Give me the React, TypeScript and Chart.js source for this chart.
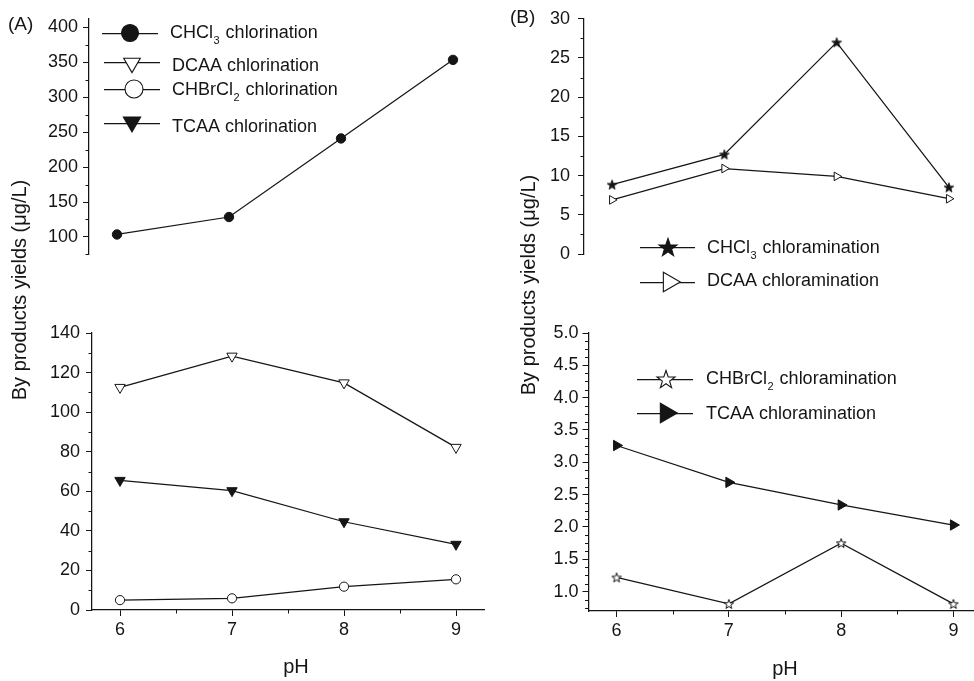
import React, { useEffect, useRef } from 'react';
import { Chart, registerables } from 'chart.js';

Chart.register(...registerables);

// ---------------- data ----------------
const PH = [6, 7, 8, 9];

const CHCL3_CHLORINATION = [103.5, 128.5, 241, 353.5];
const DCAA_CHLORINATION = [112.5, 128.3, 114.8, 82.2];
const CHBRCL2_CHLORINATION = [5.0, 5.9, 11.8, 15.5];
const TCAA_CHLORINATION = [65.5, 60.3, 44.6, 33.2];

const CHCL3_CHLORAMINATION = [8.85, 12.7, 27.0, 8.5];
const DCAA_CHLORAMINATION = [6.9, 10.9, 9.9, 7.05];
const CHBRCL2_CHLORAMINATION = [1.22, 0.81, 1.75, 0.81];
const TCAA_CHLORAMINATION = [3.26, 2.69, 2.34, 2.03];

const X_TICKS = [6, 7, 8, 9];
const A_TOP_TICKS = [100, 150, 200, 250, 300, 350, 400];
const A_BOTTOM_TICKS = [0, 20, 40, 60, 80, 100, 120, 140];
const B_TOP_TICKS = [0, 5, 10, 15, 20, 25, 30];
const B_BOTTOM_TICKS = [1.0, 1.5, 2.0, 2.5, 3.0, 3.5, 4.0, 4.5, 5.0];

const Y_TITLE = 'By products yields (\u03bcg/L)';
const X_TITLE = 'pH';

// ---------------- style ----------------
const INK = '#151515';
const FONT = '"Liberation Sans", Arial, Helvetica, sans-serif';
const CW = 1000;
const CH = 681;
const YW = 70;
const XH = 40;
const LW = 1.25;

type Shape = 'circle' | 'triangle' | 'star';
interface Marker { shape: Shape; rotation: number; filled: boolean; r: number; }
interface Part { t: string; sub?: boolean; }
interface LegendEntry { parts: Part[]; marker: Marker; x0: number; x1: number; ly: number; mx: number; my: number; tx: number; ty: number; }
interface Txt { text: string; x: number; y: number; size: number; rotate?: boolean; align: CanvasTextAlign; }
interface Series { data: number[]; marker: Marker; }
interface PanelCfg {
  area: { left: number; top: number; right: number; bottom: number };
  xMin: number; xMax: number; yMin: number; yMax: number;
  yTicks: number[]; yMinorStep: number; yDecimals: number; yPad: number;
  showX: boolean;
  series: Series[];
  legend: LegendEntry[];
  texts: Txt[];
}

function starPath(ctx: CanvasRenderingContext2D, cx: number, cy: number, R: number) {
  ctx.beginPath();
  for (let i = 0; i < 10; i++) {
    const a = -Math.PI / 2 + (i * Math.PI) / 5;
    const rr = i % 2 === 0 ? R : R * 0.4;
    const px = cx + Math.cos(a) * rr;
    const py = cy + Math.sin(a) * rr;
    if (i === 0) ctx.moveTo(px, py); else ctx.lineTo(px, py);
  }
  ctx.closePath();
}

function makeStar(R: number, filled: boolean): HTMLCanvasElement {
  const size = Math.ceil(2 * R + 4);
  const c = document.createElement('canvas');
  c.width = size; c.height = size;
  const ctx = c.getContext('2d')!;
  starPath(ctx, size / 2, size / 2 + R * 0.1, R);
  ctx.fillStyle = filled ? INK : '#ffffff';
  ctx.fill();
  ctx.lineWidth = 1;
  ctx.strokeStyle = INK;
  ctx.stroke();
  return c;
}

function drawMarker(ctx: CanvasRenderingContext2D, m: Marker, x: number, y: number) {
  ctx.save();
  ctx.lineWidth = 1.1;
  ctx.strokeStyle = INK;
  ctx.fillStyle = m.filled ? INK : '#ffffff';
  if (m.shape === 'circle') {
    ctx.beginPath(); ctx.arc(x, y, m.r, 0, Math.PI * 2); ctx.closePath();
  } else if (m.shape === 'triangle') {
    let rad = (m.rotation * Math.PI) / 180;
    ctx.beginPath();
    ctx.moveTo(x + Math.sin(rad) * m.r, y - Math.cos(rad) * m.r);
    rad += (2 * Math.PI) / 3;
    ctx.lineTo(x + Math.sin(rad) * m.r, y - Math.cos(rad) * m.r);
    rad += (2 * Math.PI) / 3;
    ctx.lineTo(x + Math.sin(rad) * m.r, y - Math.cos(rad) * m.r);
    ctx.closePath();
  } else {
    starPath(ctx, x, y + m.r * 0.1, m.r);
  }
  ctx.fill();
  ctx.stroke();
  ctx.restore();
}

function drawRich(ctx: CanvasRenderingContext2D, x: number, y: number, parts: Part[], size: number) {
  ctx.save();
  ctx.fillStyle = INK;
  ctx.textBaseline = 'middle';
  ctx.textAlign = 'left';
  let cx = x;
  for (const p of parts) {
    if (p.sub) {
      ctx.font = `${Math.round(size * 0.62)}px ${FONT}`;
      ctx.fillText(p.t, cx + 0.5, y + size * 0.45);
      cx += ctx.measureText(p.t).width + 1.5;
    } else {
      ctx.font = `${size}px ${FONT}`;
      ctx.fillText(p.t, cx, y);
      cx += ctx.measureText(p.t).width;
    }
  }
  ctx.restore();
}

const overlay = (cfg: PanelCfg) => ({
  id: 'overlay',
  afterDraw(chart: any) {
    const ctx: CanvasRenderingContext2D = chart.ctx;
    const area = chart.chartArea;
    const ys = chart.scales.y;
    const xs = chart.scales.x;
    ctx.save();
    ctx.strokeStyle = INK;
    ctx.lineWidth = 1;
    // minor y ticks
    const st = cfg.yMinorStep;
    const start = Math.ceil((cfg.yMin - 1e-9) / st) * st;
    for (let v = start; v <= cfg.yMax + 1e-9; v += st) {
      if (cfg.yTicks.some(t => Math.abs(t - v) < 1e-6)) continue;
      const py = Math.round(ys.getPixelForValue(v)) + 0.5;
      ctx.beginPath(); ctx.moveTo(area.left - 3.5, py); ctx.lineTo(area.left, py); ctx.stroke();
    }
    // minor x ticks
    if (cfg.showX) {
      for (let v = 5.5; v <= cfg.xMax; v += 1) {
        if (v < cfg.xMin) continue;
        const px = Math.round(xs.getPixelForValue(v)) + 0.5;
        ctx.beginPath(); ctx.moveTo(px, area.bottom); ctx.lineTo(px, area.bottom + 3.5); ctx.stroke();
      }
    }
    // legend
    for (const e of cfg.legend) {
      ctx.lineWidth = LW;
      ctx.beginPath();
      ctx.moveTo(e.x0, e.ly + 0.5); ctx.lineTo(e.x1, e.ly + 0.5);
      ctx.stroke();
      drawMarker(ctx, e.marker, e.mx, e.my);
      drawRich(ctx, e.tx, e.ty, e.parts, 18);
    }
    // free texts
    for (const t of cfg.texts) {
      ctx.save();
      ctx.fillStyle = INK;
      ctx.font = `${t.size}px ${FONT}`;
      ctx.textBaseline = 'middle';
      ctx.textAlign = t.align;
      ctx.translate(t.x, t.y);
      if (t.rotate) ctx.rotate(-Math.PI / 2);
      ctx.fillText(t.text, 0, 0);
      ctx.restore();
    }
    ctx.restore();
  },
});

function buildChart(canvas: HTMLCanvasElement, cfg: PanelCfg) {
  const a = cfg.area;
  const datasets = cfg.series.map(s => ({
    data: PH.map((x, i) => ({ x, y: s.data[i] })),
    borderColor: INK,
    borderWidth: LW,
    tension: 0,
    fill: false,
    clip: false as any,
    pointStyle: s.marker.shape === 'star' ? makeStar(s.marker.r, s.marker.filled) : s.marker.shape,
    pointRotation: s.marker.rotation,
    pointRadius: s.marker.r,
    pointBorderColor: INK,
    pointBorderWidth: 1,
    pointBackgroundColor: s.marker.filled ? INK : '#ffffff',
  }));
  const grid = { display: true, drawOnChartArea: false, drawTicks: true, tickLength: 6, tickColor: INK, tickWidth: 1 };
  const border = { display: true, color: INK, width: LW };
  return new Chart(canvas, {
    type: 'line',
    data: { datasets } as any,
    options: {
      animation: false,
      responsive: false,
      maintainAspectRatio: false,
      events: [],
      layout: {
        padding: {
          left: a.left - YW,
          top: a.top,
          right: CW - a.right,
          bottom: CH - a.bottom - (cfg.showX ? XH : 0),
        },
      },
      plugins: { legend: { display: false }, tooltip: { enabled: false } },
      scales: {
        x: {
          type: 'linear',
          min: cfg.xMin,
          max: cfg.xMax,
          bounds: 'data',
          display: cfg.showX,
          afterBuildTicks: (s: any) => { s.ticks = X_TICKS.map(v => ({ value: v })); },
          afterFit: (s: any) => { s.height = XH; },
          grid,
          border,
          ticks: { color: INK, font: { family: FONT, size: 18 }, padding: 3, maxRotation: 0, autoSkip: false, callback: (v: any) => String(v) },
        },
        y: {
          type: 'linear',
          min: cfg.yMin,
          max: cfg.yMax,
          bounds: 'data',
          afterBuildTicks: (s: any) => { s.ticks = cfg.yTicks.map(v => ({ value: v })); },
          afterFit: (s: any) => { s.width = YW; },
          grid,
          border,
          ticks: { color: INK, font: { family: FONT, size: 18 }, padding: cfg.yPad, autoSkip: false, callback: (v: any) => Number(v).toFixed(cfg.yDecimals) },
        },
      },
    } as any,
    plugins: [overlay(cfg) as any],
  });
}

// ---------------- markers ----------------
const M_CHCL3_A: Marker = { shape: 'circle', rotation: 0, filled: true, r: 4.7 };
const M_DCAA_A: Marker = { shape: 'triangle', rotation: 180, filled: false, r: 6 };
const M_CHBRCL2_A: Marker = { shape: 'circle', rotation: 0, filled: false, r: 4.6 };
const M_TCAA_A: Marker = { shape: 'triangle', rotation: 180, filled: true, r: 6 };
const M_CHCL3_B: Marker = { shape: 'star', rotation: 0, filled: true, r: 5 };
const M_DCAA_B: Marker = { shape: 'triangle', rotation: 90, filled: false, r: 5 };
const M_CHBRCL2_B: Marker = { shape: 'star', rotation: 0, filled: false, r: 5 };
const M_TCAA_B: Marker = { shape: 'triangle', rotation: 90, filled: true, r: 6 };

const big = (m: Marker, r: number): Marker => ({ ...m, r });

const PANELS: PanelCfg[] = [
  {
    area: { left: 89, top: 19, right: 481, bottom: 294.4 },
    xMin: 5.75, xMax: 9.25, yMin: 75, yMax: 412,
    yTicks: A_TOP_TICKS, yMinorStep: 25, yDecimals: 0, yPad: 5,
    showX: false,
    series: [{ data: CHCL3_CHLORINATION, marker: M_CHCL3_A }],
    legend: [
      { parts: [{ t: 'CHCl' }, { t: '3', sub: true }, { t: ' chlorination' }], marker: big(M_CHCL3_A, 8.5), x0: 102, x1: 158, ly: 33, mx: 130, my: 33, tx: 170, ty: 33 },
      { parts: [{ t: 'DCAA chlorination' }], marker: big(M_DCAA_A, 9.6), x0: 104, x1: 160, ly: 62, mx: 132, my: 63, tx: 172, ty: 66 },
      { parts: [{ t: 'CHBrCl' }, { t: '2', sub: true }, { t: ' chlorination' }], marker: big(M_CHBRCL2_A, 9), x0: 104, x1: 160, ly: 89, mx: 134, my: 89, tx: 172, ty: 90 },
      { parts: [{ t: 'TCAA chlorination' }], marker: big(M_TCAA_A, 10), x0: 104, x1: 160, ly: 123, mx: 132, my: 122, tx: 172, ty: 127 },
    ],
    texts: [
      { text: '(A)', x: 8, y: 25, size: 19, align: 'left' },
      { text: Y_TITLE, x: 20, y: 290, size: 20, rotate: true, align: 'center' },
    ],
  },
  {
    area: { left: 92, top: 333, right: 484, bottom: 610 },
    xMin: 5.75, xMax: 9.25, yMin: 0, yMax: 140,
    yTicks: A_BOTTOM_TICKS, yMinorStep: 10, yDecimals: 0, yPad: 6,
    showX: true,
    series: [
      { data: DCAA_CHLORINATION, marker: M_DCAA_A },
      { data: CHBRCL2_CHLORINATION, marker: M_CHBRCL2_A },
      { data: TCAA_CHLORINATION, marker: M_TCAA_A },
    ],
    legend: [],
    texts: [{ text: X_TITLE, x: 296, y: 667, size: 20, align: 'center' }],
  },
  {
    area: { left: 584, top: 16, right: 977, bottom: 294 },
    xMin: 5.75, xMax: 9.25, yMin: 0, yMax: 30,
    yTicks: B_TOP_TICKS, yMinorStep: 2.5, yDecimals: 0, yPad: 8,
    showX: false,
    series: [
      { data: CHCL3_CHLORAMINATION, marker: M_CHCL3_B },
      { data: DCAA_CHLORAMINATION, marker: M_DCAA_B },
    ],
    legend: [
      { parts: [{ t: 'CHCl' }, { t: '3', sub: true }, { t: ' chloramination' }], marker: big(M_CHCL3_B, 9.5), x0: 640, x1: 695, ly: 247, mx: 668, my: 247, tx: 707, ty: 248 },
      { parts: [{ t: 'DCAA chloramination' }], marker: big(M_DCAA_B, 11.3), x0: 640, x1: 695, ly: 282, mx: 669, my: 282, tx: 707, ty: 281 },
    ],
    texts: [
      { text: '(B)', x: 510, y: 18, size: 19, align: 'left' },
      { text: Y_TITLE, x: 529, y: 285, size: 20, rotate: true, align: 'center' },
    ],
  },
  {
    area: { left: 588.5, top: 333, right: 981.5, bottom: 611 },
    xMin: 5.75, xMax: 9.25, yMin: 0.7, yMax: 5.0,
    yTicks: B_BOTTOM_TICKS, yMinorStep: 0.125, yDecimals: 1, yPad: 4,
    showX: true,
    series: [
      { data: CHBRCL2_CHLORAMINATION, marker: M_CHBRCL2_B },
      { data: TCAA_CHLORAMINATION, marker: M_TCAA_B },
    ],
    legend: [
      { parts: [{ t: 'CHBrCl' }, { t: '2', sub: true }, { t: ' chloramination' }], marker: big(M_CHBRCL2_B, 9.5), x0: 637, x1: 693, ly: 379, mx: 666, my: 379, tx: 706, ty: 379 },
      { parts: [{ t: 'TCAA chloramination' }], marker: big(M_TCAA_B, 11.3), x0: 637, x1: 693, ly: 413, mx: 666, my: 413, tx: 706, ty: 414 },
    ],
    texts: [{ text: X_TITLE, x: 785, y: 669, size: 20, align: 'center' }],
  },
];

function Panel({ cfg }: { cfg: PanelCfg }) {
  const ref = useRef<HTMLCanvasElement>(null);
  useEffect(() => {
    if (!ref.current) return;
    const chart = buildChart(ref.current, cfg);
    return () => chart.destroy();
  }, [cfg]);
  return (
    <canvas
      ref={ref}
      width={CW}
      height={CH}
      style={{ position: 'absolute', left: 0, top: 0, width: CW, height: CH }}
    />
  );
}

export default function App() {
  return (
    <div style={{ position: 'absolute', left: 0, top: 0, width: 974, height: 681, overflow: 'hidden', background: '#ffffff' }}>
      {PANELS.map((p, i) => (
        <Panel key={i} cfg={p} />
      ))}
    </div>
  );
}
